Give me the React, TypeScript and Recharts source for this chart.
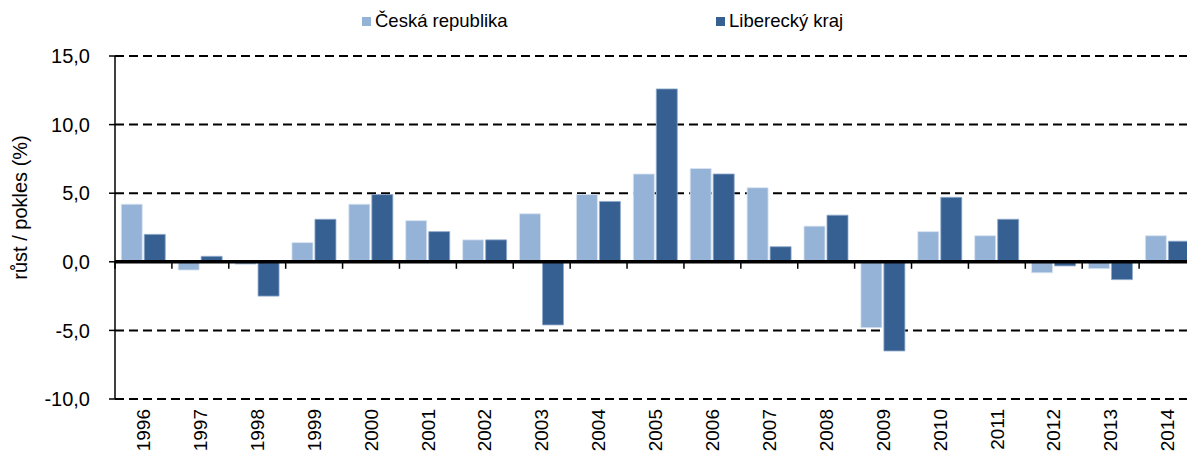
import React from "react";
import {
  BarChart, Bar, XAxis, YAxis, CartesianGrid, ReferenceLine, Label,
} from "recharts";

// Meziroční růst / pokles (%) — ČR vs. Liberecký kraj
const roky = [
  "1996", "1997", "1998", "1999", "2000", "2001", "2002", "2003", "2004", "2005",
  "2006", "2007", "2008", "2009", "2010", "2011", "2012", "2013", "2014",
];
const ceskaRepublika = [
  4.2, -0.6, -0.2, 1.4, 4.2, 3.0, 1.6, 3.5, 4.9, 6.4,
  6.8, 5.4, 2.6, -4.8, 2.2, 1.9, -0.8, -0.5, 1.9,
];
const liberecky = [
  2.0, 0.4, -2.5, 3.1, 4.9, 2.2, 1.6, -4.6, 4.4, 12.6,
  6.4, 1.1, 3.4, -6.5, 4.7, 3.1, -0.3, -1.3, 1.5,
];
const osaY = [-10, -5, 0, 5, 10, 15];

const SVETLA = "#95B3D7";
const TMAVA = "#376092";
const PISMO = "'Liberation Sans', Arial, sans-serif";

const data = roky.map((rok, i) => ({
  rok,
  cr: ceskaRepublika[i],
  lk: liberecky[i],
}));

const carka = (v: number) => v.toFixed(1).replace(".", ",");

// popisek roku otočený o 90°
function RokTick(props: any) {
  const { x, y, payload } = props;
  const yy = y + 2;
  return (
    <text
      x={x}
      y={yy}
      dy="0.35em"
      textAnchor="end"
      transform={`rotate(-90, ${x}, ${yy})`}
      fontSize={19}
      fontFamily={PISMO}
      fill="#000"
    >
      {payload.value}
    </text>
  );
}

// tlustá nulová čára + značky hranic kategorií
function NulovaCara(props: any) {
  const { x1, y1, x2 } = props;
  const krok = (x2 - x1) / roky.length;
  return (
    <g>
      <line x1={x1} y1={y1} x2={x2} y2={y1} stroke="#000" strokeWidth={3.5} />
      {roky.map((_, i) => (
        <line
          key={i}
          x1={x1 + krok * i}
          x2={x1 + krok * i}
          y1={y1}
          y2={y1 + 7}
          stroke="#000"
          strokeWidth={1.5}
        />
      ))}
    </g>
  );
}

// název osy Y
function NazevOsy(props: any) {
  const vb = props.viewBox;
  const cx = vb.x + 20;
  const cy = vb.y + vb.height / 2 - 20;
  return (
    <text
      x={cx}
      y={cy}
      dy="0.35em"
      textAnchor="middle"
      transform={`rotate(-90, ${cx}, ${cy})`}
      fontSize={20}
      fontFamily={PISMO}
      fill="#000"
    >
      růst / pokles (%)
    </text>
  );
}

function LegendaPolozka({ barva, text, left }: { barva: string; text: string; left: number }) {
  return (
    <div style={{ position: "absolute", left, top: 10, display: "flex", alignItems: "center" }}>
      <span style={{ width: 9, height: 9, background: barva, marginRight: 4, display: "inline-block" }} />
      <span style={{ fontSize: 18.5, fontFamily: PISMO, color: "#000" }}>{text}</span>
    </div>
  );
}

export default function App() {
  return (
    <div
      style={{
        position: "absolute", left: 0, top: 0, width: 1187, height: 456,
        overflow: "hidden", background: "#fff",
      }}
    >
      <BarChart
        width={1200}
        height={456}
        data={data}
        margin={{ top: 56, right: 4, left: 0, bottom: 0 }}
        barCategoryGap="11%"
        barGap={2}
      >
        <CartesianGrid
          vertical={false}
          stroke="#000"
          strokeWidth={2}
          strokeDasharray="9 5"
        />
        <XAxis
          dataKey="rok"
          interval={0}
          height={57}
          axisLine={false}
          tickLine={false}
          tick={<RokTick />}
        />
        <YAxis
          width={115}
          domain={[-10, 15]}
          ticks={osaY}
          tickFormatter={carka}
          axisLine={{ stroke: "#000", strokeWidth: 1.5 }}
          tickLine={{ stroke: "#000", strokeWidth: 1.5 }}
          tickSize={6}
          tickMargin={19}
          tick={{ fontSize: 20, fontFamily: PISMO, fill: "#000" }}
        >
          <Label content={<NazevOsy />} />
        </YAxis>
        <Bar dataKey="cr" name="Česká republika" fill={SVETLA} stroke="#dbe5f1" strokeWidth={0.8} isAnimationActive={false} />
        <Bar dataKey="lk" name="Liberecký kraj" fill={TMAVA} stroke="#8fa9cc" strokeWidth={0.8} isAnimationActive={false} />
        <ReferenceLine y={0} shape={<NulovaCara />} />
      </BarChart>
      <LegendaPolozka barva={SVETLA} text="Česká republika" left={362} />
      <LegendaPolozka barva={TMAVA} text="Liberecký kraj" left={716} />
    </div>
  );
}
